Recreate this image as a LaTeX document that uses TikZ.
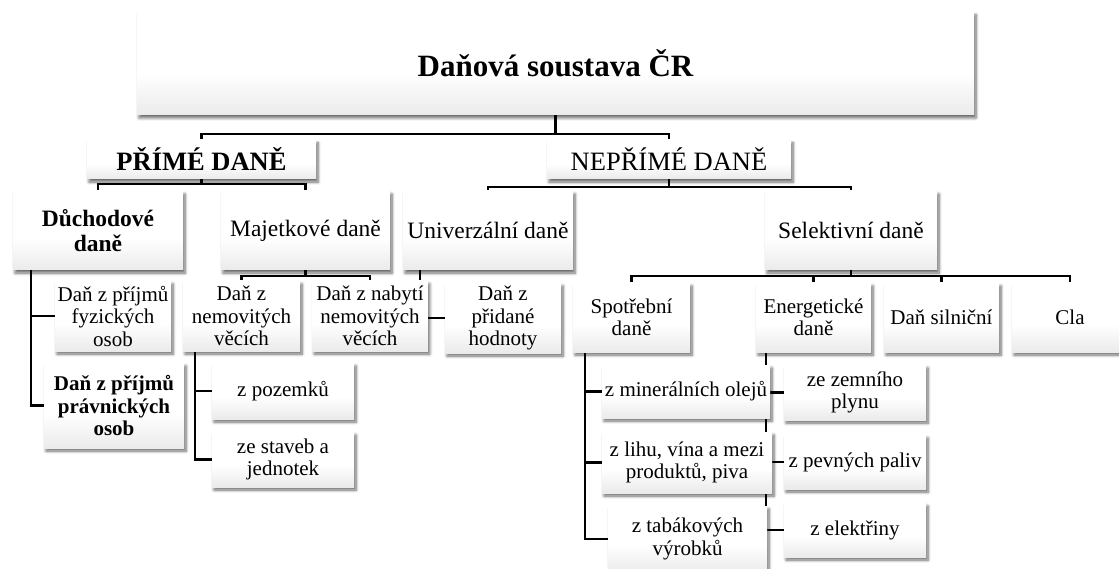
\documentclass[tikz,border=0pt]{standalone}
\usepackage{fontspec}
\setmainfont{Liberation Serif}
\usetikzlibrary{shadows.blur}
\pgfdeclarelayer{bg}
\pgfsetlayers{bg,main}
\pgfdeclareverticalshading{boxshade}{100bp}{color(0bp)=(black!18); color(45bp)=(white); color(100bp)=(white)}
\tikzset{
  tbox/.style={shade, shading=boxshade, inner sep=0pt, align=center,
    blur shadow={shadow xshift=2pt, shadow yshift=-3pt, shadow blur radius=3pt, shadow blur steps=6, shadow opacity=60},
    font=\fontsize{21}{22.5}\selectfont},
  midbox/.style={tbox, font=\fontsize{23.5}{25}\selectfont},
  conn/.style={line width=2.3pt, black},
}
\begin{document}
\begin{tikzpicture}[x=1pt,y=-1pt]
\useasboundingbox (0,0) rectangle (1119,569);
% level 0
\node[tbox, minimum width=837pt, minimum height=103pt, font=\fontsize{31}{33}\selectfont\bfseries] (main) at (555.5,63.5) {Daňová soustava ČR};
% level 1
\node[tbox, minimum width=229pt, minimum height=39pt, font=\fontsize{26.5}{28}\selectfont\bfseries] (prime) at (201.5,159.5) {PŘÍMÉ DANĚ};
\node[tbox, minimum width=244pt, minimum height=39pt, font=\fontsize{26.5}{28}\selectfont] (neprime) at (669,159.5) {NEPŘÍMÉ DANĚ};
% level 2
\node[midbox, minimum width=170pt, minimum height=79pt, font=\fontsize{23.5}{25}\selectfont\bfseries] (duch) at (98,230.5) {Důchodové\\daně};
\node[midbox, minimum width=169pt, minimum height=79pt] (majet) at (305.5,230.5) {Majetkové daně};
\node[midbox, minimum width=170pt, minimum height=79pt] (univ) at (488,230.5) {Univerzální daně};
\node[midbox, minimum width=172pt, minimum height=79pt] (selek) at (851,230.5) {Selektivní daně};
% level 3 left
\node[tbox, minimum width=116pt, minimum height=70pt] (fyz) at (113,316) {Daň z příjmů\\fyzických\\osob};
\node[tbox, minimum width=140pt, minimum height=85pt, font=\fontsize{21}{22.5}\selectfont\bfseries] (prav) at (114,405.5) {Daň z příjmů\\právnických\\osob};
\node[tbox, minimum width=117pt, minimum height=70pt] (nemov) at (241.5,316) {Daň z\\nemovitých\\věcích};
\node[tbox, minimum width=115.5pt, minimum height=70pt] (nabyti) at (370,316) {Daň z nabytí\\nemovitých\\věcích};
\node[tbox, minimum width=116pt, minimum height=70pt] (dph) at (503,318) {Daň z\\přidané\\hodnoty};
\node[tbox, minimum width=142pt, minimum height=56pt] (pozemku) at (283,391) {z pozemků};
\node[tbox, minimum width=142pt, minimum height=55pt] (staveb) at (283,459.5) {ze staveb a\\jednotek};
% level 3 right
\node[tbox, minimum width=117pt, minimum height=69pt] (spotr) at (631.5,317.5) {Spotřební\\daně};
\node[tbox, minimum width=115pt, minimum height=69pt] (energ) at (813.5,317.5) {Energetické\\daně};
\node[tbox, minimum width=115pt, minimum height=69pt] (silni) at (941.5,317.5) {Daň silniční};
\node[tbox, minimum width=116pt, minimum height=69pt] (cla) at (1070,317.5) {Cla};
\node[tbox, minimum width=168pt, minimum height=53pt] (miner) at (686,391.5) {z minerálních olejů};
\node[tbox, minimum width=170pt, minimum height=61pt] (lihu) at (687,462.5) {z lihu, vína a mezi\\produktů, piva};
\node[tbox, minimum width=159pt, minimum height=66pt] (tabak) at (687.5,539) {z tabákových\\výrobků};
\node[tbox, minimum width=142pt, minimum height=55pt] (zemni) at (855,392.5) {ze zemního\\plynu};
\node[tbox, minimum width=142pt, minimum height=54pt] (pevnych) at (855,462) {z pevných paliv};
\node[tbox, minimum width=142pt, minimum height=54pt] (elektr) at (855,530) {z elektřiny};
% connectors
\begin{pgfonlayer}{bg}
\draw[conn] (main.south) -- ++(0,19) -| (prime.north);
\draw[conn] (main.south) -- ++(0,19) -| (neprime.north);
\draw[conn] (prime.south) -- ++(0,5) -| (duch.north);
\draw[conn] (prime.south) -- ++(0,5) -| (majet.north);
\draw[conn] (neprime.south) -- ++(0,7.5) -| (univ.north);
\draw[conn] (neprime.south) -- ++(0,7.5) -| (selek.north);
\draw[conn] ([xshift=18pt]duch.south west) |- (fyz.west);
\draw[conn] ([xshift=18pt]duch.south west) |- (prav.west);
\draw[conn] (majet.south) -- ++(0,6) -| (nemov.north);
\draw[conn] (majet.south) -- ++(0,6) -| (nabyti.north);
\draw[conn] ([xshift=17pt]univ.south west) |- (dph.west);
\draw[conn] ([xshift=12pt]nemov.south west) |- (pozemku.west);
\draw[conn] ([xshift=12pt]nemov.south west) |- (staveb.west);
\draw[conn] (selek.south) -- ++(0,6) -| (spotr.north);
\draw[conn] (selek.south) -- ++(0,6) -| (energ.north);
\draw[conn] (selek.south) -- ++(0,6) -| (silni.north);
\draw[conn] (selek.south) -- ++(0,6) -| (cla.north);
\draw[conn] ([xshift=12pt]spotr.south west) |- (miner.west);
\draw[conn] ([xshift=12pt]spotr.south west) |- (lihu.west);
\draw[conn] ([xshift=12pt]spotr.south west) |- (tabak.west);
\draw[conn] ([xshift=10pt]energ.south west) |- (zemni.west);
\draw[conn] ([xshift=10pt]energ.south west) |- (pevnych.west);
\draw[conn] ([xshift=10pt]energ.south west) |- (elektr.west);
\end{pgfonlayer}
\end{tikzpicture}
\end{document}
